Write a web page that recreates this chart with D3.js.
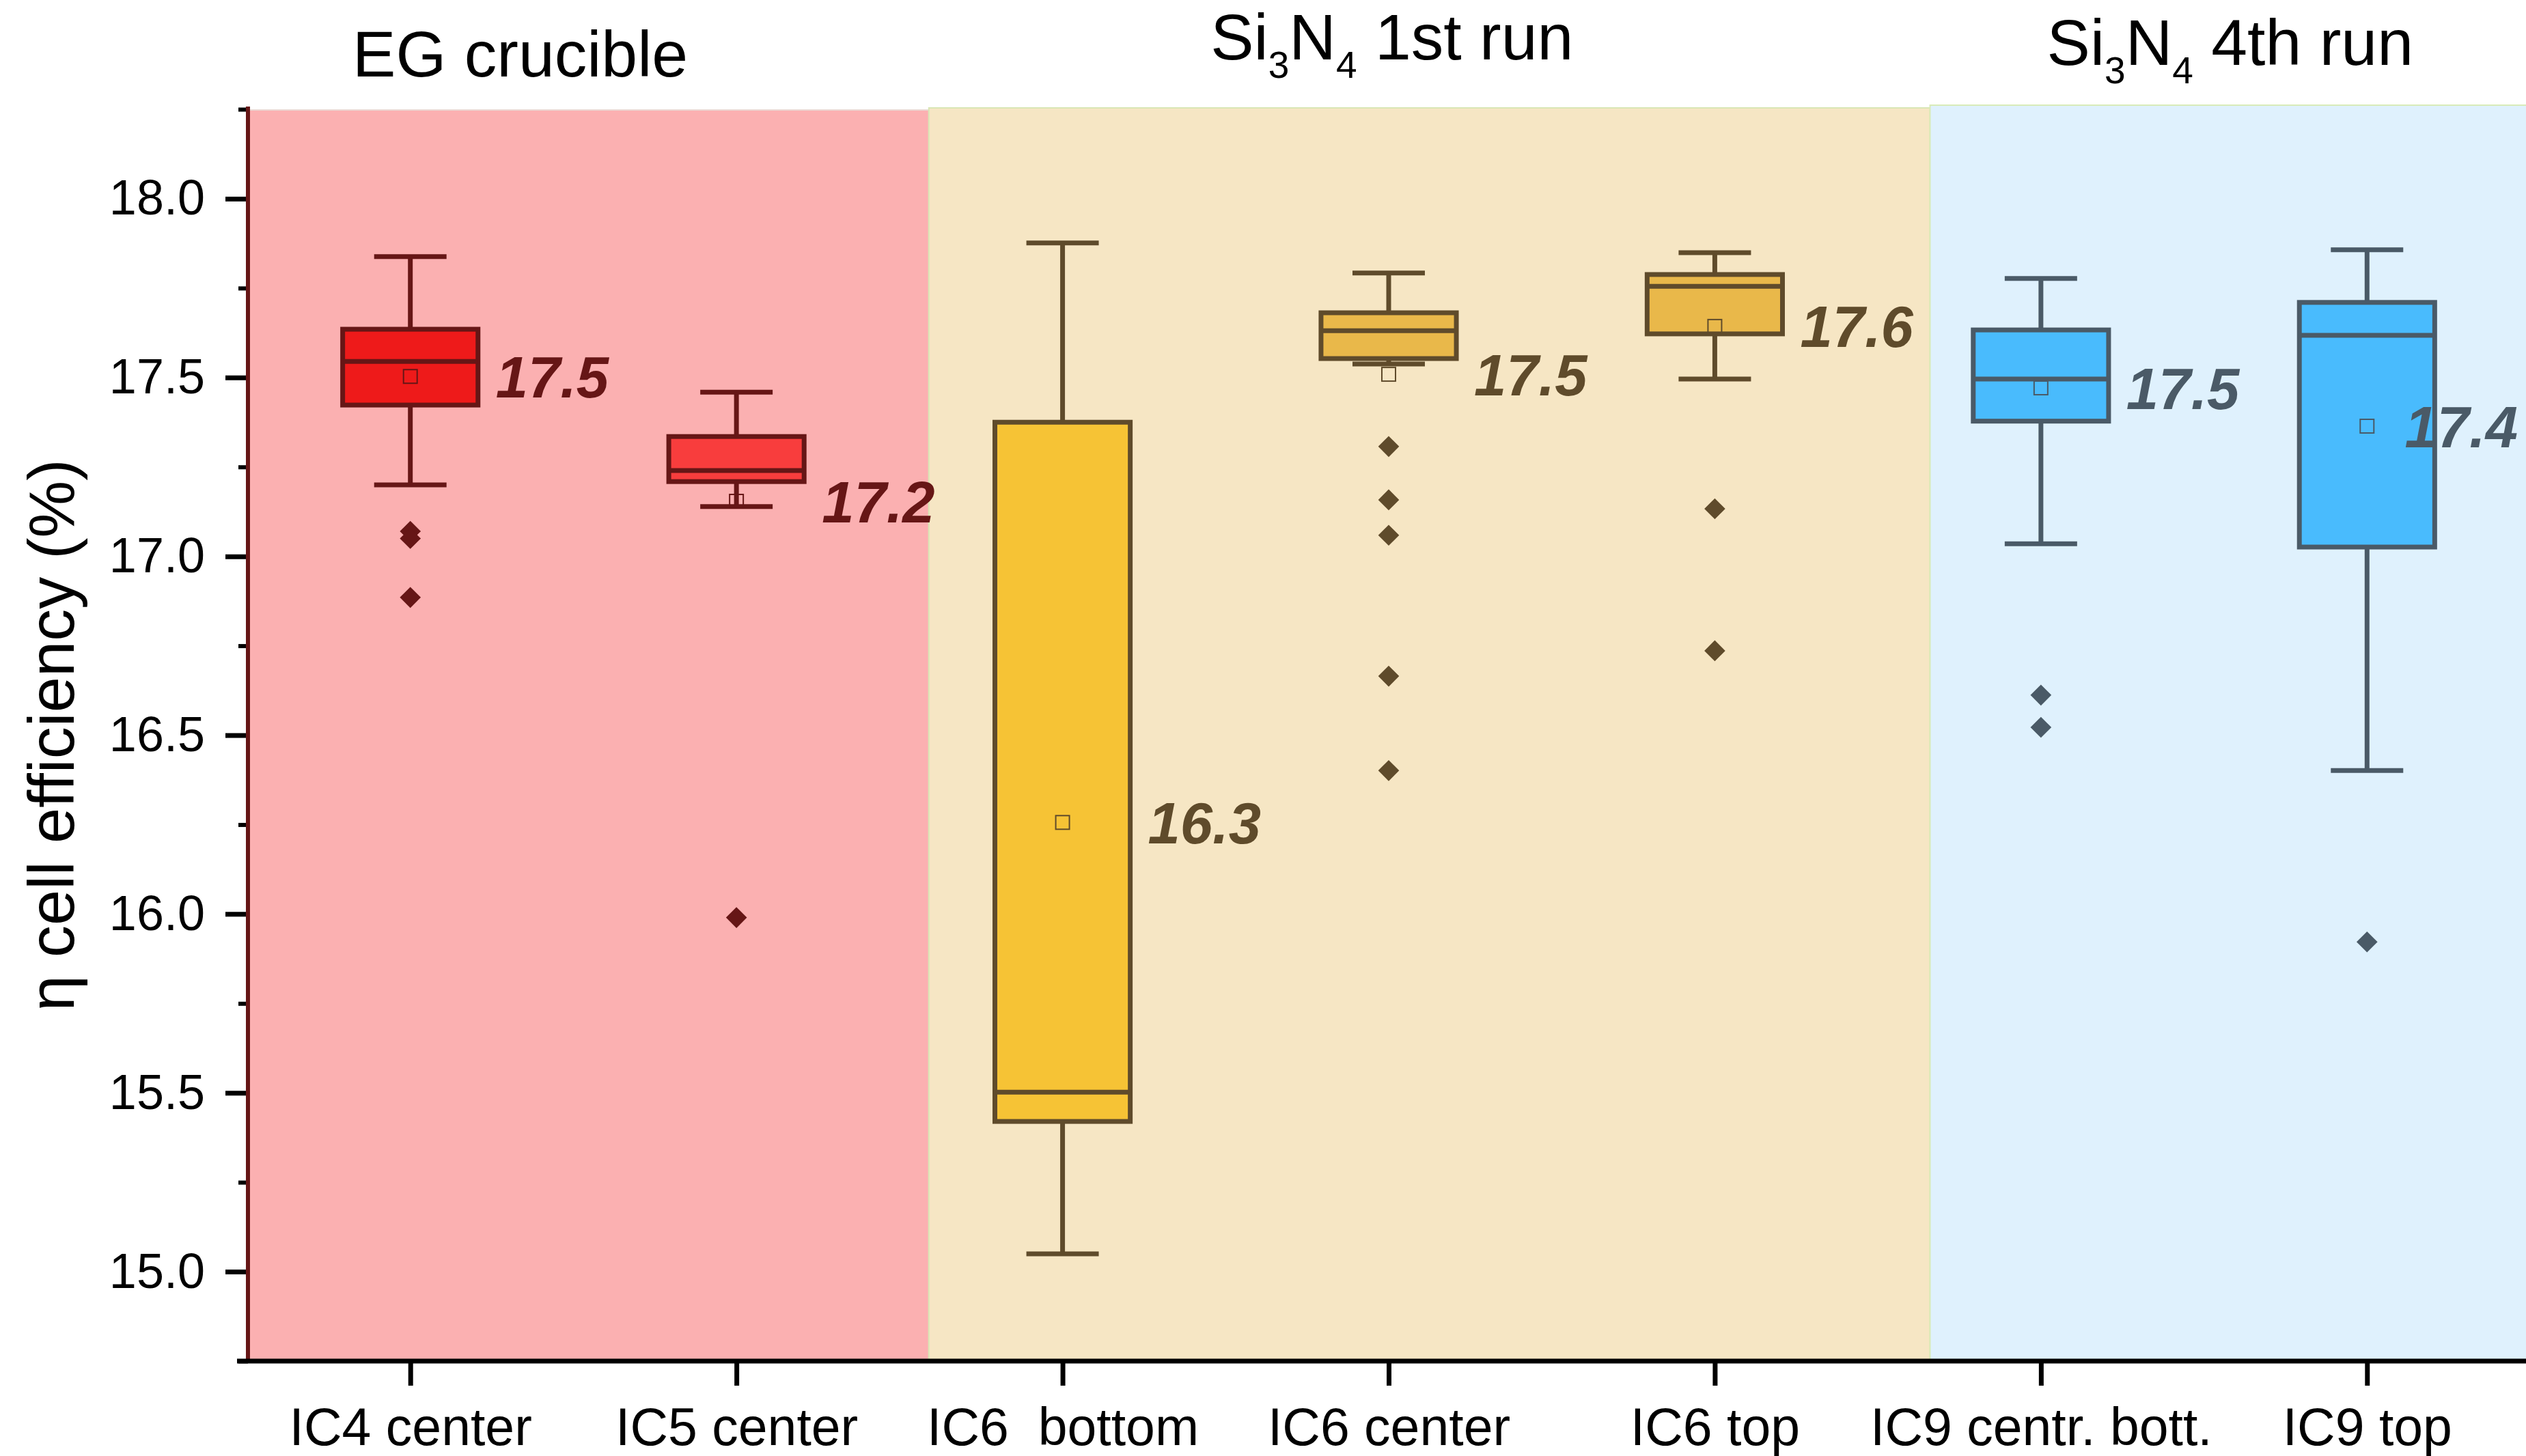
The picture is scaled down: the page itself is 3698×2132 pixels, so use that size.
<!DOCTYPE html>
<html lang="en"><head>
<meta charset="UTF-8">
<script type="text/javascript" src="https://d3js.org/d3.v7.min.js"></script>
<title>Cell efficiency boxplot</title>
<style>
  body { margin: 0; background: #fff; }
  text { font-family: Arial, "Liberation Sans", sans-serif; }
</style>
</head>
<body>
<svg id="vis" width="3698" height="2132"></svg>
<script>

// data
var categories = ["IC4 center", "IC5 center", "IC6  bottom", "IC6 center", "IC6 top", "IC9 centr. bott.", "IC9 top"];
var groupOf    = [0, 0, 1, 1, 1, 2, 2];
var whiskerHigh = [17.838, 17.459, 17.876, 17.792, 17.849, 17.777, 17.857];
var q3          = [17.635, 17.335, 17.375, 17.681, 17.788, 17.633, 17.710];
var medians     = [17.545, 17.240, 15.502, 17.631, 17.755, 17.496, 17.618];
var q1          = [17.423, 17.209, 15.420, 17.553, 17.622, 17.378, 17.026];
var whiskerLow  = [17.200, 17.139, 15.050, 17.538, 17.496, 17.035, 16.401];
var means       = [17.503, 17.154, 16.256, 17.509, 17.643, 17.471, 17.364];
var meanLabels  = ["17.5", "17.2", "16.3", "17.5", "17.6", "17.5", "17.4"];
var outliers    = [[17.07, 17.05, 16.885], [15.99], [], [17.307, 17.158, 17.059, 16.665, 16.401], [17.133, 16.736], [16.612, 16.522], [15.922]];

var groupNames = [
  [["EG crucible", 0]],
  [["Si", 0], ["3", 1], ["N", 0], ["4", 1], [" 1st run", 0]],
  [["Si", 0], ["3", 1], ["N", 0], ["4", 1], [" 4th run", 0]]
];
var yTicks = [15.0, 15.5, 16.0, 16.5, 17.0, 17.5, 18.0];
var yMinorTicks = [14.75, 15.25, 15.75, 16.25, 16.75, 17.25, 17.75, 18.25];

// styles
var boxFill   = ["#EE1A1A", "#F83D3D", "#F6C335", "#E9B84A", "#E9B84A", "#49BBFD", "#49BBFD"];
var groupLine = ["#661616", "#5F4B2B", "#4A5A67"];
var panelFill = ["#FBB0B1", "#F6E6C4", "#DFF1FD"];
var panelEdge = ["#EBD9D4", "#D9E6B4", "#D9EBB8"];

// layout (index units along x for panels and titles)
var W = 3698, H = 2132;
var plotTop = 160, plotBottom = 1993, plotLeft = 362, plotRight = 3704;
var panelEdges = [-0.5, 1.59, 4.66, 6.5];
var panelTops = [161, 158, 154];
var titleAt = [{i: 0.337, base: 112}, {i: 3.01, base: 87}, {i: 5.58, base: 95}];

var svg = d3.select("#vis");

var x = d3.scalePoint().domain(categories).range([plotLeft, plotRight]).padding(0.5);
var step = x.step();
function xi(i){ return x(categories[0]) + i * step; }

var y = d3.scaleLinear().domain([14.75, 18.25]).range([plotBottom, plotTop]);

// background panels
var gPanels = svg.append("g");
for (var p = 0; p < 3; p++){
  var x0 = xi(panelEdges[p]), x1 = Math.min(xi(panelEdges[p+1]), W + 10);
  gPanels.append("rect")
    .attr("x", x0).attr("y", panelTops[p])
    .attr("width", x1 - x0).attr("height", plotBottom - panelTops[p])
    .attr("fill", panelFill[p])
    .attr("stroke", panelEdge[p]).attr("stroke-width", 2);
}

// boxes
var bw = step * 0.415, cw = step * 0.222;
var gBoxes = svg.append("g");
var diamond = d3.symbol().type(d3.symbolSquare).size(470)();
for (var i = 0; i < categories.length; i++){
  var cx = x(categories[i]);
  var col = groupLine[groupOf[i]];
  var g = gBoxes.append("g").attr("stroke", col).attr("stroke-width", 7);

  g.append("line").attr("x1", cx).attr("x2", cx).attr("y1", y(q3[i])).attr("y2", y(whiskerHigh[i]));
  g.append("line").attr("x1", cx).attr("x2", cx).attr("y1", y(q1[i])).attr("y2", y(whiskerLow[i]));
  g.append("line").attr("x1", cx - cw/2).attr("x2", cx + cw/2).attr("y1", y(whiskerHigh[i])).attr("y2", y(whiskerHigh[i]));
  g.append("line").attr("x1", cx - cw/2).attr("x2", cx + cw/2).attr("y1", y(whiskerLow[i])).attr("y2", y(whiskerLow[i]));

  g.append("rect")
    .attr("x", cx - bw/2).attr("y", y(q3[i]))
    .attr("width", bw).attr("height", y(q1[i]) - y(q3[i]))
    .attr("fill", boxFill[i]);
  g.append("line").attr("x1", cx - bw/2).attr("x2", cx + bw/2).attr("y1", y(medians[i])).attr("y2", y(medians[i]));

  // mean marker
  gBoxes.append("rect")
    .attr("x", cx - 10).attr("y", y(means[i]) - 10)
    .attr("width", 20).attr("height", 20)
    .attr("fill", "none").attr("stroke", col).attr("stroke-width", 2);

  // outliers
  for (var k = 0; k < outliers[i].length; k++){
    gBoxes.append("path")
      .attr("d", diamond)
      .attr("fill", col)
      .attr("transform", "translate(" + cx + "," + y(outliers[i][k]) + ") rotate(45)");
  }
}

// mean value labels
var gLabels = svg.append("g");
for (var i = 0; i < categories.length; i++){
  var t = gLabels.append("text")
    .attr("x", x(categories[i]) + 125)
    .attr("y", y(means[i]))
    .attr("dy", "0.36em")
    .attr("font-size", 85).attr("font-weight", "bold").attr("font-style", "italic")
    .attr("fill", groupLine[groupOf[i]])
    .text(meanLabels[i]);
  var len = t.node().getComputedTextLength();
  if (x(categories[i]) + 125 + len > W - 12){
    t.attr("x", W - 12 - len);
  }
}

// y axis
var yAxis = d3.axisLeft(y).tickValues(yTicks).tickSize(33).tickPadding(30).tickFormat(d3.format(".1f"));
var gy = svg.append("g").attr("transform", "translate(" + 363 + ",0)").call(yAxis);
gy.select(".domain").remove();
gy.selectAll(".tick line").attr("stroke", "#000").attr("stroke-width", 7);
gy.selectAll(".tick text").attr("font-size", 72).attr("fill", "#000").attr("font-family", null);

var yMinor = d3.axisLeft(y).tickValues(yMinorTicks).tickSize(14).tickFormat("");
var gym = svg.append("g").attr("transform", "translate(" + 363 + ",0)").call(yMinor);
gym.select(".domain").remove();
gym.selectAll(".tick line").attr("stroke", "#000").attr("stroke-width", 6);

svg.append("line")
  .attr("x1", 363).attr("x2", 363).attr("y1", plotTop - 4).attr("y2", plotBottom)
  .attr("stroke", "#661616").attr("stroke-width", 6);

// x axis
var xAxis = d3.axisBottom(x).tickSize(36).tickPadding(32).tickSizeOuter(0);
var gx = svg.append("g").attr("transform", "translate(0," + plotBottom + ")").call(xAxis);
gx.select(".domain").remove();
gx.selectAll(".tick line").attr("stroke", "#000").attr("stroke-width", 7);
gx.selectAll(".tick text").attr("font-size", 77).attr("fill", "#000").attr("font-family", null)
  .style("white-space", "pre");

svg.append("line")
  .attr("x1", 347).attr("x2", W).attr("y1", plotBottom).attr("y2", plotBottom)
  .attr("stroke", "#000").attr("stroke-width", 7);

// y label
svg.append("text")
  .attr("transform", "translate(108," + ((plotTop + plotBottom) / 2) + ") rotate(-90)")
  .attr("text-anchor", "middle")
  .attr("font-size", 94)
  .attr("fill", "#000")
  .text("\u03b7 cell efficiency (%)");

// group titles with subscripts
for (var p = 0; p < 3; p++){
  var tt = svg.append("text")
    .attr("x", xi(titleAt[p].i)).attr("y", titleAt[p].base)
    .attr("text-anchor", "middle")
    .attr("font-size", 95).attr("fill", "#000");
  var shifted = 0;
  groupNames[p].forEach(function(part){
    var sp = tt.append("tspan").text(part[0]);
    if (part[1] == 1){
      sp.attr("font-size", 55).attr("dy", 27 - shifted);
      shifted = 27;
    } else {
      sp.attr("dy", -shifted);
      shifted = 0;
    }
  });
}

</script>
</body></html>
